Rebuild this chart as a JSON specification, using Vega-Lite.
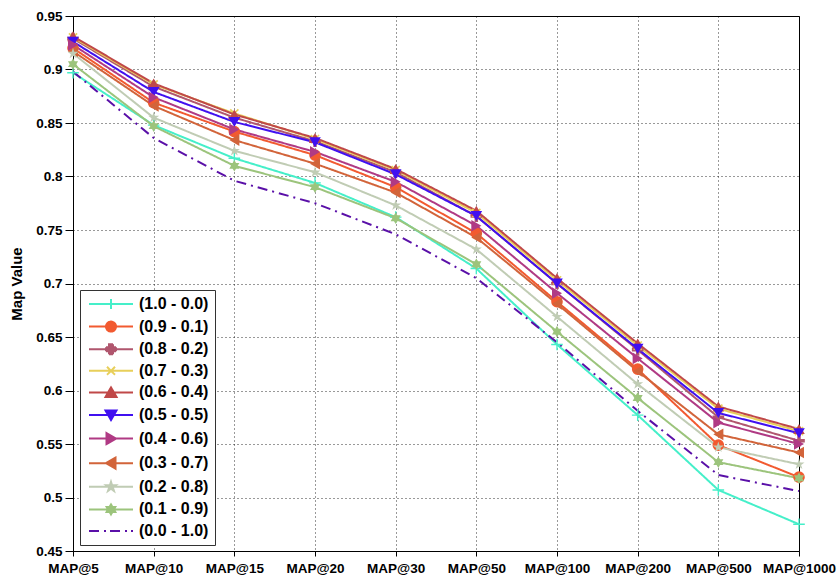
{
  "$schema": "https://vega.github.io/schema/vega-lite/v6.json",
  "width": 726,
  "height": 535,
  "autosize": {"type": "none"},
  "padding": {"left": 73, "top": 16, "right": 39, "bottom": 29},
  "background": "white",
  "config": {
    "view": {"stroke": "black", "strokeWidth": 1},
    "font": "Liberation Sans"
  },
  "data": {
    "values": [
      {"s": "(1.0 - 0.0)", "k": "MAP@5", "v": 0.897}, {"s": "(1.0 - 0.0)", "k": "MAP@10", "v": 0.848}, {"s": "(1.0 - 0.0)", "k": "MAP@15", "v": 0.817}, {"s": "(1.0 - 0.0)", "k": "MAP@20", "v": 0.794}, {"s": "(1.0 - 0.0)", "k": "MAP@30", "v": 0.762}, {"s": "(1.0 - 0.0)", "k": "MAP@50", "v": 0.714}, {"s": "(1.0 - 0.0)", "k": "MAP@100", "v": 0.643}, {"s": "(1.0 - 0.0)", "k": "MAP@200", "v": 0.577}, {"s": "(1.0 - 0.0)", "k": "MAP@500", "v": 0.507}, {"s": "(1.0 - 0.0)", "k": "MAP@1000", "v": 0.475},
      {"s": "(0.9 - 0.1)", "k": "MAP@5", "v": 0.920}, {"s": "(0.9 - 0.1)", "k": "MAP@10", "v": 0.869}, {"s": "(0.9 - 0.1)", "k": "MAP@15", "v": 0.842}, {"s": "(0.9 - 0.1)", "k": "MAP@20", "v": 0.820}, {"s": "(0.9 - 0.1)", "k": "MAP@30", "v": 0.790}, {"s": "(0.9 - 0.1)", "k": "MAP@50", "v": 0.747}, {"s": "(0.9 - 0.1)", "k": "MAP@100", "v": 0.683}, {"s": "(0.9 - 0.1)", "k": "MAP@200", "v": 0.620}, {"s": "(0.9 - 0.1)", "k": "MAP@500", "v": 0.549}, {"s": "(0.9 - 0.1)", "k": "MAP@1000", "v": 0.519},
      {"s": "(0.8 - 0.2)", "k": "MAP@5", "v": 0.929}, {"s": "(0.8 - 0.2)", "k": "MAP@10", "v": 0.884}, {"s": "(0.8 - 0.2)", "k": "MAP@15", "v": 0.855}, {"s": "(0.8 - 0.2)", "k": "MAP@20", "v": 0.833}, {"s": "(0.8 - 0.2)", "k": "MAP@30", "v": 0.804}, {"s": "(0.8 - 0.2)", "k": "MAP@50", "v": 0.763}, {"s": "(0.8 - 0.2)", "k": "MAP@100", "v": 0.700}, {"s": "(0.8 - 0.2)", "k": "MAP@200", "v": 0.638}, {"s": "(0.8 - 0.2)", "k": "MAP@500", "v": 0.575}, {"s": "(0.8 - 0.2)", "k": "MAP@1000", "v": 0.553},
      {"s": "(0.7 - 0.3)", "k": "MAP@5", "v": 0.930}, {"s": "(0.7 - 0.3)", "k": "MAP@10", "v": 0.886}, {"s": "(0.7 - 0.3)", "k": "MAP@15", "v": 0.859}, {"s": "(0.7 - 0.3)", "k": "MAP@20", "v": 0.835}, {"s": "(0.7 - 0.3)", "k": "MAP@30", "v": 0.806}, {"s": "(0.7 - 0.3)", "k": "MAP@50", "v": 0.766}, {"s": "(0.7 - 0.3)", "k": "MAP@100", "v": 0.703}, {"s": "(0.7 - 0.3)", "k": "MAP@200", "v": 0.642}, {"s": "(0.7 - 0.3)", "k": "MAP@500", "v": 0.583}, {"s": "(0.7 - 0.3)", "k": "MAP@1000", "v": 0.562},
      {"s": "(0.6 - 0.4)", "k": "MAP@5", "v": 0.931}, {"s": "(0.6 - 0.4)", "k": "MAP@10", "v": 0.887}, {"s": "(0.6 - 0.4)", "k": "MAP@15", "v": 0.858}, {"s": "(0.6 - 0.4)", "k": "MAP@20", "v": 0.836}, {"s": "(0.6 - 0.4)", "k": "MAP@30", "v": 0.807}, {"s": "(0.6 - 0.4)", "k": "MAP@50", "v": 0.768}, {"s": "(0.6 - 0.4)", "k": "MAP@100", "v": 0.705}, {"s": "(0.6 - 0.4)", "k": "MAP@200", "v": 0.644}, {"s": "(0.6 - 0.4)", "k": "MAP@500", "v": 0.585}, {"s": "(0.6 - 0.4)", "k": "MAP@1000", "v": 0.564},
      {"s": "(0.5 - 0.5)", "k": "MAP@5", "v": 0.926}, {"s": "(0.5 - 0.5)", "k": "MAP@10", "v": 0.879}, {"s": "(0.5 - 0.5)", "k": "MAP@15", "v": 0.851}, {"s": "(0.5 - 0.5)", "k": "MAP@20", "v": 0.832}, {"s": "(0.5 - 0.5)", "k": "MAP@30", "v": 0.802}, {"s": "(0.5 - 0.5)", "k": "MAP@50", "v": 0.763}, {"s": "(0.5 - 0.5)", "k": "MAP@100", "v": 0.700}, {"s": "(0.5 - 0.5)", "k": "MAP@200", "v": 0.639}, {"s": "(0.5 - 0.5)", "k": "MAP@500", "v": 0.579}, {"s": "(0.5 - 0.5)", "k": "MAP@1000", "v": 0.560},
      {"s": "(0.4 - 0.6)", "k": "MAP@5", "v": 0.923}, {"s": "(0.4 - 0.6)", "k": "MAP@10", "v": 0.874}, {"s": "(0.4 - 0.6)", "k": "MAP@15", "v": 0.844}, {"s": "(0.4 - 0.6)", "k": "MAP@20", "v": 0.823}, {"s": "(0.4 - 0.6)", "k": "MAP@30", "v": 0.795}, {"s": "(0.4 - 0.6)", "k": "MAP@50", "v": 0.754}, {"s": "(0.4 - 0.6)", "k": "MAP@100", "v": 0.691}, {"s": "(0.4 - 0.6)", "k": "MAP@200", "v": 0.630}, {"s": "(0.4 - 0.6)", "k": "MAP@500", "v": 0.570}, {"s": "(0.4 - 0.6)", "k": "MAP@1000", "v": 0.550},
      {"s": "(0.3 - 0.7)", "k": "MAP@5", "v": 0.917}, {"s": "(0.3 - 0.7)", "k": "MAP@10", "v": 0.866}, {"s": "(0.3 - 0.7)", "k": "MAP@15", "v": 0.834}, {"s": "(0.3 - 0.7)", "k": "MAP@20", "v": 0.812}, {"s": "(0.3 - 0.7)", "k": "MAP@30", "v": 0.785}, {"s": "(0.3 - 0.7)", "k": "MAP@50", "v": 0.743}, {"s": "(0.3 - 0.7)", "k": "MAP@100", "v": 0.681}, {"s": "(0.3 - 0.7)", "k": "MAP@200", "v": 0.618}, {"s": "(0.3 - 0.7)", "k": "MAP@500", "v": 0.559}, {"s": "(0.3 - 0.7)", "k": "MAP@1000", "v": 0.542},
      {"s": "(0.2 - 0.8)", "k": "MAP@5", "v": 0.915}, {"s": "(0.2 - 0.8)", "k": "MAP@10", "v": 0.855}, {"s": "(0.2 - 0.8)", "k": "MAP@15", "v": 0.824}, {"s": "(0.2 - 0.8)", "k": "MAP@20", "v": 0.804}, {"s": "(0.2 - 0.8)", "k": "MAP@30", "v": 0.773}, {"s": "(0.2 - 0.8)", "k": "MAP@50", "v": 0.732}, {"s": "(0.2 - 0.8)", "k": "MAP@100", "v": 0.669}, {"s": "(0.2 - 0.8)", "k": "MAP@200", "v": 0.606}, {"s": "(0.2 - 0.8)", "k": "MAP@500", "v": 0.547}, {"s": "(0.2 - 0.8)", "k": "MAP@1000", "v": 0.531},
      {"s": "(0.1 - 0.9)", "k": "MAP@5", "v": 0.905}, {"s": "(0.1 - 0.9)", "k": "MAP@10", "v": 0.847}, {"s": "(0.1 - 0.9)", "k": "MAP@15", "v": 0.810}, {"s": "(0.1 - 0.9)", "k": "MAP@20", "v": 0.790}, {"s": "(0.1 - 0.9)", "k": "MAP@30", "v": 0.761}, {"s": "(0.1 - 0.9)", "k": "MAP@50", "v": 0.718}, {"s": "(0.1 - 0.9)", "k": "MAP@100", "v": 0.655}, {"s": "(0.1 - 0.9)", "k": "MAP@200", "v": 0.593}, {"s": "(0.1 - 0.9)", "k": "MAP@500", "v": 0.533}, {"s": "(0.1 - 0.9)", "k": "MAP@1000", "v": 0.518},
      {"s": "(0.0 - 1.0)", "k": "MAP@5", "v": 0.898}, {"s": "(0.0 - 1.0)", "k": "MAP@10", "v": 0.836}, {"s": "(0.0 - 1.0)", "k": "MAP@15", "v": 0.796}, {"s": "(0.0 - 1.0)", "k": "MAP@20", "v": 0.775}, {"s": "(0.0 - 1.0)", "k": "MAP@30", "v": 0.746}, {"s": "(0.0 - 1.0)", "k": "MAP@50", "v": 0.705}, {"s": "(0.0 - 1.0)", "k": "MAP@100", "v": 0.645}, {"s": "(0.0 - 1.0)", "k": "MAP@200", "v": 0.581}, {"s": "(0.0 - 1.0)", "k": "MAP@500", "v": 0.521}, {"s": "(0.0 - 1.0)", "k": "MAP@1000", "v": 0.506}
    ]
  },
  "encoding": {
    "x": {
      "field": "k", "type": "ordinal",
      "sort": ["MAP@5", "MAP@10", "MAP@15", "MAP@20", "MAP@30", "MAP@50", "MAP@100", "MAP@200", "MAP@500", "MAP@1000"],
      "scale": {"type": "point", "padding": 0},
      "axis": {
        "title": null, "labelAngle": 0, "labelFont": "Liberation Sans", "labelFontWeight": "bold", "labelFontSize": 13.5, "labelColor": "black",
        "tickSize": 5, "tickColor": "black", "domainColor": "black", "labelPadding": 5,
        "grid": true, "gridColor": "black", "gridDash": [1, 3], "gridOpacity": 0.8
      }
    },
    "y": {
      "field": "v", "type": "quantitative",
      "scale": {"domain": [0.45, 0.95], "nice": false, "zero": false},
      "axis": {
        "title": "Map Value", "titleFont": "Liberation Sans", "titleFontWeight": "bold", "titleFontSize": 15, "titleColor": "black", "titlePadding": 11,
        "values": [0.45, 0.5, 0.55, 0.6, 0.65, 0.7, 0.75, 0.8, 0.85, 0.9, 0.95], "format": ".2~f",
        "labelFont": "Liberation Sans", "labelFontWeight": "bold", "labelFontSize": 13.5, "labelColor": "black",
        "tickSize": 8, "tickColor": "black", "domainColor": "black", "labelPadding": 3,
        "grid": true, "gridColor": "black", "gridDash": [1, 3], "gridOpacity": 0.8
      }
    },
    "color": {
      "field": "s", "type": "nominal",
      "scale": {
        "domain": ["(1.0 - 0.0)", "(0.9 - 0.1)", "(0.8 - 0.2)", "(0.7 - 0.3)", "(0.6 - 0.4)", "(0.5 - 0.5)", "(0.4 - 0.6)", "(0.3 - 0.7)", "(0.2 - 0.8)", "(0.1 - 0.9)", "(0.0 - 1.0)"],
        "range": ["#45EFC9", "#F25A30", "#B0566E", "#E8CF5A", "#C04848", "#4010F0", "#B03A84", "#D2643A", "#C0CCB4", "#9CC47C", "#5A10A8"]
      },
      "legend": {
        "title": null, "orient": "none", "legendX": 7, "legendY": 274,
        "padding": 6, "fillColor": "white", "strokeColor": "#333",
        "labelFont": "Liberation Sans", "labelFontWeight": "bold", "labelFontSize": 16, "labelColor": "black",
        "labelOffset": 37, "rowPadding": 4.6, "symbolSize": 100, "symbolStrokeWidth": 2,
        "encode": {
          "symbols": {
            "update": {
              "shape": {"signal": "['M-1,0H7.8M3.4,-1V1', 'M-1,0H7.8M4.4,0A1,1,0,1,1,2.4,0A1,1,0,1,1,4.4,0Z', 'M-1,0H7.8M3,-1H3.8V-0.4H4.4V0.4H3.8V1H3V0.4H2.4V-0.4H3Z', 'M-1,0H7.8M2.6,-0.8L4.2,0.8M2.6,0.8L4.2,-0.8', 'M-1,0H7.8M3.4,-1L4.5,0.9L2.3,0.9Z', 'M-1,0H7.8M3.4,1L4.5,-0.9L2.3,-0.9Z', 'M-1,0H7.8M4.4,0L2.5,1.1L2.5,-1.1Z', 'M-1,0H7.8M2.4,0L4.3,1.1L4.3,-1.1Z', 'M-1,0H7.8M3.4,-1L3.625,-0.309L4.351,-0.309L3.763,0.118L3.988,0.809L3.4,0.382L2.812,0.809L3.037,0.118L2.449,-0.309L3.175,-0.309Z', 'M-1,0H7.8M3.4,-1L3.689,-0.5L4.266,-0.5L3.977,0L4.266,0.5L3.689,0.5L3.4,1L3.111,0.5L2.534,0.5L2.823,0L2.534,-0.5L3.111,-0.5Z', 'M-1,0H1.2M2,0H2.4M3.2,0H5.4M6.2,0H6.6M7.4,0H7.8'][indexof(['(1.0 - 0.0)', '(0.9 - 0.1)', '(0.8 - 0.2)', '(0.7 - 0.3)', '(0.6 - 0.4)', '(0.5 - 0.5)', '(0.4 - 0.6)', '(0.3 - 0.7)', '(0.2 - 0.8)', '(0.1 - 0.9)', '(0.0 - 1.0)'], datum.value)]"},
              "fill": {"scale": "color", "field": "value"},
              "stroke": {"scale": "color", "field": "value"},
              "strokeWidth": {"value": 2},
              "opacity": {"value": 1},
              "fillOpacity": {"value": 1}
            }
          }
        }
      }
    }
  },
  "layer": [
    {
      "mark": {"type": "line", "strokeWidth": 2},
      "encoding": {
        "strokeDash": {
          "field": "s", "type": "nominal", "legend": null,
          "scale": {
            "domain": ["(1.0 - 0.0)", "(0.9 - 0.1)", "(0.8 - 0.2)", "(0.7 - 0.3)", "(0.6 - 0.4)", "(0.5 - 0.5)", "(0.4 - 0.6)", "(0.3 - 0.7)", "(0.2 - 0.8)", "(0.1 - 0.9)", "(0.0 - 1.0)"],
            "range": [[1, 0], [1, 0], [1, 0], [1, 0], [1, 0], [1, 0], [1, 0], [1, 0], [1, 0], [1, 0], [10, 5, 2, 5]]
          }
        }
      }
    },
    {
      "transform": [{"filter": "datum.s !== '(0.0 - 1.0)'"}],
      "mark": {"type": "point", "filled": true, "opacity": 1, "size": 135},
      "encoding": {
        "shape": {
          "field": "s", "type": "nominal", "legend": null,
          "scale": {
            "domain": ["(1.0 - 0.0)", "(0.9 - 0.1)", "(0.8 - 0.2)", "(0.7 - 0.3)", "(0.6 - 0.4)", "(0.5 - 0.5)", "(0.4 - 0.6)", "(0.3 - 0.7)", "(0.2 - 0.8)", "(0.1 - 0.9)"],
            "range": [
              "M-0.12,-1H0.12V-0.12H1V0.12H0.12V1H-0.12V0.12H-1V-0.12H-0.12Z",
              "circle",
              "M-0.3,-1H0.3V-0.3H1V0.3H0.3V1H-0.3V0.3H-1V-0.3H-0.3Z",
              "M-0.8,-0.6L-0.6,-0.8L0,-0.2L0.6,-0.8L0.8,-0.6L0.2,0L0.8,0.6L0.6,0.8L0,0.2L-0.6,0.8L-0.8,0.6L-0.2,0Z",
              "triangle-up",
              "triangle-down",
              "triangle-right",
              "triangle-left",
              "M0,-1L0.225,-0.309L0.951,-0.309L0.363,0.118L0.588,0.809L0,0.382L-0.588,0.809L-0.363,0.118L-0.951,-0.309L-0.225,-0.309Z",
              "M0,-1L0.289,-0.5L0.866,-0.5L0.577,0L0.866,0.5L0.289,0.5L0,1L-0.289,0.5L-0.866,0.5L-0.577,0L-0.866,-0.5L-0.289,-0.5Z"
            ]
          }
        }
      }
    }
  ]
}
